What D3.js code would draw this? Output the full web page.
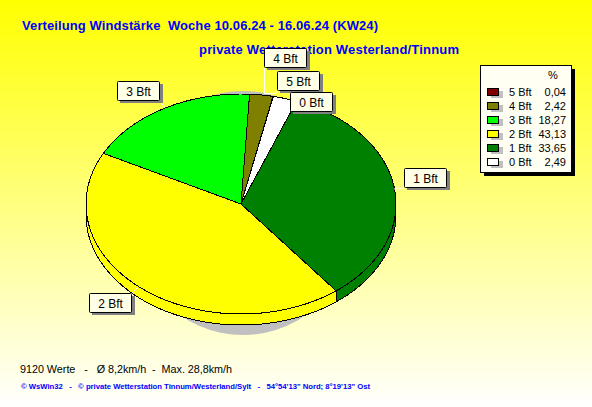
<!DOCTYPE html>
<html><head><meta charset="utf-8">
<script src="https://cdn.jsdelivr.net/npm/d3@7"></script>
<style>html,body{margin:0;padding:0;background:#fff}svg{display:block}text{font-family:"Liberation Sans",Arial,sans-serif}</style>
</head><body><div id="c"></div>
<script>
const categories=["1 Bft","2 Bft","3 Bft","4 Bft","5 Bft","0 Bft"];
const values=[33.65,43.13,18.27,2.42,0.04,2.49];
const colors=["#008000","#ffff00","#00ff00","#808000","#800000","#ffffff"];
const legendOrder=["5 Bft","4 Bft","3 Bft","2 Bft","1 Bft","0 Bft"];
const legendText=["0,04","2,42","18,27","43,13","33,65","2,49"];
const labelPos=[[404,168],[89,293],[117,81],[264,48],[277,71],[290,92]];

const W=592,H=407,cx=241,cy=204,rx=155,ry=110,depth=11;
const svg=d3.select("#c").append("svg").attr("width",W).attr("height",H);
const defs=svg.append("defs");
const g=defs.append("linearGradient").attr("id","bg").attr("x1",0).attr("x2",0).attr("y1",0).attr("y2",1);
g.append("stop").attr("offset",0).attr("stop-color","#ffff00");
g.append("stop").attr("offset",1).attr("stop-color","#ffffff");
svg.append("rect").attr("width",W).attr("height",H).attr("fill","url(#bg)");

const title=svg.append("g").attr("fill","#0000ff").attr("font-weight","bold").attr("font-size",13);
title.append("text").attr("x",22).attr("y",30).style("white-space","pre").attr("textLength",356).text("Verteilung Windstärke  Woche 10.06.24 - 16.06.24 (KW24)");
title.append("text").attr("x",199).attr("y",54).attr("textLength",260).text("private Wetterstation Westerland/Tinnum");

// pie
const pie=d3.pie().sort(null).value(d=>d).startAngle(21*Math.PI/180).endAngle((360+21)*Math.PI/180);
const arcs=pie(values);
const px=d3.scaleLinear().domain([-1,1]).range([cx-rx,cx+rx]);
const py=d3.scaleLinear().domain([-1,1]).range([cy-ry,cy+ry]);
const pt=a=>[px(Math.sin(a)),py(-Math.cos(a))];
const samples=(a0,a1)=>d3.range(0,61).map(i=>a0+(a1-a0)*i/60);
const line=d3.line();

// shadow
svg.append("ellipse").attr("cx",cx+2).attr("cy",cy+9).attr("rx",115).attr("ry",122).attr("fill","#c0c0c0");

const pieG=svg.append("g").attr("stroke","#000").attr("stroke-width",1).attr("shape-rendering","crispEdges");
// side wall of the front half
arcs.forEach((d,i)=>{
  const a0=Math.max(d.startAngle,Math.PI/2),a1=Math.min(d.endAngle,Math.PI*1.5);
  if(a1<=a0)return;
  const top=samples(a0,a1).map(pt);
  const bot=top.slice().reverse().map(p=>[p[0],p[1]+depth]);
  pieG.append("path").attr("d",line(top.concat(bot))+"Z").attr("fill",colors[i]);
});
// top faces
arcs.forEach((d,i)=>{
  const pts=[[cx,cy]].concat(samples(d.startAngle,d.endAngle).map(pt));
  pieG.append("path").attr("d",line(pts)+"Z").attr("fill",colors[i]);
});

// leader lines
const leaders=svg.append("g").attr("stroke","#fff").attr("fill","none");
leaders.append("path").attr("d","M264.5,68V93.5H275L280,89");
leaders.append("path").attr("d","M132,293L138,287");
leaders.append("path").attr("d","M160,101L165,108");
leaders.append("path").attr("d","M394,189L404,188");

// labels
const lab=svg.append("g");
categories.forEach((c,i)=>{
  const [x,y]=labelPos[i];
  const b=lab.append("g").attr("transform",`translate(${x},${y})`);
  b.append("rect").attr("x",3).attr("y",3).attr("width",43).attr("height",19).attr("fill","#808080");
  b.append("rect").attr("x",.5).attr("y",.5).attr("width",42).attr("height",19).attr("rx",1).attr("fill","#ffffe8").attr("stroke","#000").attr("stroke-width",1);
  b.append("text").attr("x",21.5).attr("y",14.5).attr("text-anchor","middle").attr("font-size",12).attr("fill","#000").text(c);
});

// legend
const L=svg.append("g").attr("transform","translate(480,65)");
L.append("rect").attr("x",4).attr("y",4).attr("width",91).attr("height",107).attr("fill","#000");
L.append("rect").attr("x",.5).attr("y",.5).attr("width",91).attr("height",107).attr("fill","#fffff4").attr("stroke","#000");
L.append("text").attr("x",73).attr("y",14).attr("text-anchor","middle").attr("font-size",11).text("%");
const ly=d3.scalePoint().domain(legendOrder).range([27,97]);
legendOrder.forEach((c,i)=>{
  const y=ly(c);
  const col=colors[categories.indexOf(c)];
  L.append("rect").attr("x",11).attr("y",y-1).attr("width",12).attr("height",7).attr("fill","#c0c0c0");
  L.append("rect").attr("x",7.5).attr("y",y-3.5).attr("width",11).attr("height",7).attr("fill",col).attr("stroke","#000");
  L.append("text").attr("x",29).attr("y",y+4).attr("font-size",11).text(c);
  L.append("text").attr("x",86).attr("y",y+4).attr("text-anchor","end").attr("font-size",11).text(legendText[i]);
});

// footer
svg.append("text").attr("x",20).attr("y",373).attr("font-size",10.8).style("white-space","pre").attr("textLength",212).text("9120 Werte   -   Ø 8,2km/h  -  Max. 28,8km/h");
svg.append("text").attr("x",21).attr("y",389).attr("font-size",7.7).attr("font-weight","bold").attr("fill","#0000ff").style("white-space","pre").attr("textLength",349).text("© WsWin32   -   © private Wetterstation Tinnum/Westerland/Sylt   -   54°54'13\" Nord; 8°19'13\" Ost");
</script></body></html>
